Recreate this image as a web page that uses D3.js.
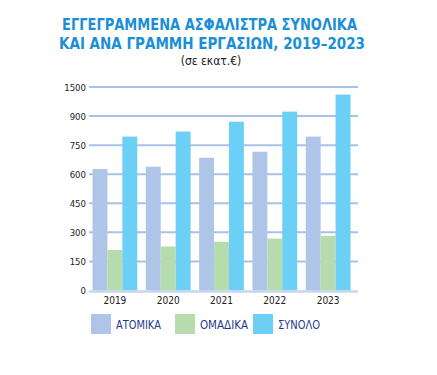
<!DOCTYPE html>
<html><head><meta charset="utf-8">
<script src="https://cdn.jsdelivr.net/npm/d3@7"></script>
<style>
html,body{margin:0;padding:0;background:#fff;}
svg{display:block;}
</style>
</head><body>
<svg id="chart" width="437" height="375"></svg>
<script>
const years = ["2019","2020","2021","2022","2023"];
const seriesNames = ["ΑΤΟΜΙΚΑ","ΟΜΑΔΙΚΑ","ΣΥΝΟΛΟ"];
const atomika = [627, 639, 685, 716, 794];
const omadika = [209, 227, 251, 268, 282];
const synolo = [794, 820, 871, 923, 1011];
const tickValues = [0,150,300,450,600,750,900,1050];
const tickLabels = ["0","150","300","450","600","750","900","1500"];
const colors = ["#aec5e8","#b6dcae","#6ccff5"];

const svg = d3.select("#chart");
const font = "'DejaVu Sans Condensed','DejaVu Sans',sans-serif";

// title
const title = svg.append("g").attr("fill","#1a8fd8")
  .style("font-family",font).style("font-size","16.5px").style("font-weight","bold").style("font-stretch","condensed");
title.append("text").attr("x",62).attr("y",30).attr("textLength",295).attr("lengthAdjust","spacingAndGlyphs")
  .text("ΕΓΓΕΓΡΑΜΜΕΝΑ ΑΣΦΑΛΙΣΤΡΑ ΣΥΝΟΛΙΚΑ");
title.append("text").attr("x",59).attr("y",49).attr("textLength",306).attr("lengthAdjust","spacingAndGlyphs")
  .text("ΚΑΙ ΑΝΑ ΓΡΑΜΜΗ ΕΡΓΑΣΙΩΝ, 2019–2023");
svg.append("text").attr("x",211).attr("y",65).attr("text-anchor","middle").attr("fill","#222")
  .style("font-family",font).style("font-size","12px").text("(σε εκατ.€)");

const y = d3.scaleLinear().domain([0,1050]).range([290.5,87]);
const x0 = d3.scaleBand().domain(years).range([92.5,350.5]).paddingInner(0.16).paddingOuter(0);
const x1 = d3.scaleBand().domain(seriesNames).range([0,x0.bandwidth()]);
const gridX0 = 89, gridX1 = 358;

// grid
const yAxis = d3.axisLeft(y).tickValues(tickValues).tickFormat((d,i)=>tickLabels[i]).tickSize(0).tickPadding(3);
const ga = svg.append("g").attr("transform",`translate(${gridX0},0)`).call(yAxis);
ga.select(".domain").remove();
ga.selectAll("text").style("font-family",font).style("font-size","9.5px").attr("fill","#222");
svg.append("g").selectAll("line").data(tickValues.filter(d=>d>0)).join("line")
  .attr("x1",gridX0).attr("x2",gridX1).attr("y1",d=>y(d)).attr("y2",d=>y(d))
  .attr("stroke","#a7c2ea").attr("stroke-width",2);

// bars
const data = years.map((yr,i)=>({year:yr, vals:[atomika[i],omadika[i],synolo[i]]}));
const groups = svg.append("g").selectAll("g").data(data).join("g")
  .attr("transform",d=>`translate(${x0(d.year)},0)`);
groups.selectAll("rect").data(d=>d.vals.map((v,j)=>({name:seriesNames[j],v,j}))).join("rect")
  .attr("x",d=>x1(d.name)).attr("width",x1.bandwidth())
  .attr("y",d=>y(d.v)).attr("height",d=>y(0)-y(d.v))
  .attr("fill",d=>colors[d.j]);

// baseline
svg.append("line").attr("x1",gridX0).attr("x2",gridX1).attr("y1",y(0)+1).attr("y2",y(0)+1)
  .attr("stroke","#c6d6ef").attr("stroke-width",2.5);

// x axis labels
const xAxis = d3.axisBottom(x0).tickSize(0).tickPadding(4);
const gx = svg.append("g").attr("transform",`translate(0,${y(0)+2})`).call(xAxis);
gx.select(".domain").remove();
gx.selectAll("text").style("font-family",font).style("font-size","10px").attr("fill","#222");

// legend
const legX = [91,175,253];
const legW = [45,48,42];
const leg = svg.append("g").selectAll("g").data(seriesNames).join("g")
  .attr("transform",(d,i)=>`translate(${legX[i]},314)`);
leg.append("rect").attr("width",20).attr("height",20).attr("fill",(d,i)=>colors[i]);
leg.append("text").attr("x",25).attr("y",14.5).text(d=>d)
  .attr("textLength",(d,i)=>legW[i]).attr("lengthAdjust","spacingAndGlyphs")
  .style("font-family",font).style("font-size","12px").attr("fill","#1f3a8a");
</script>
</body></html>
